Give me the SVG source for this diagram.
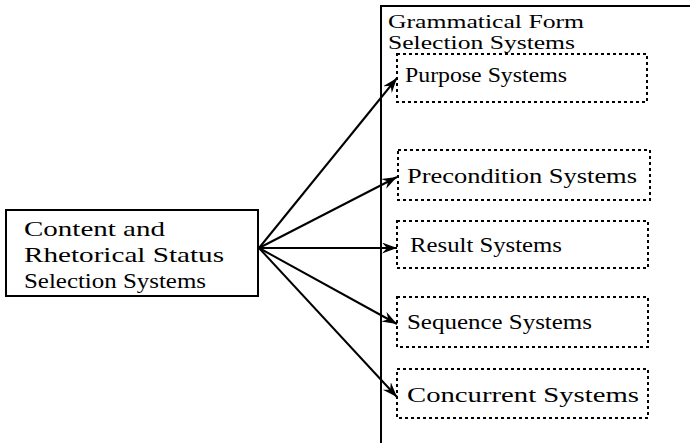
<svg xmlns="http://www.w3.org/2000/svg" width="690" height="443" viewBox="0 0 690 443">
<style>
text{font-family:"Liberation Serif","Times New Roman",serif;font-size:22px;fill:#000}
text.hdr{font-size:18.5px}
.solid{fill:#fff;stroke:#000;stroke-width:2}
.dash{fill:none;stroke:#000;stroke-width:2;stroke-dasharray:3 3}
.conn{stroke:#000;stroke-width:2;fill:none;marker-end:url(#ah)}
</style>
<defs>
<marker id="ah" markerUnits="userSpaceOnUse" markerWidth="18" markerHeight="12" refX="15" refY="5.5" orient="auto">
<path d="M0,0 L15,5.5 L0,11 L5,5.5 z" fill="#000"/>
</marker>
</defs>
<rect width="690" height="443" fill="#fff"/>
<g id="grammatical-form">
<path d="M381,443 L381,6 L690,6" fill="none" stroke="#000" stroke-width="2"/>
<text class="hdr" x="388" y="28" textLength="196" lengthAdjust="spacingAndGlyphs">Grammatical Form</text>
<text class="hdr" x="388" y="49" textLength="187" lengthAdjust="spacingAndGlyphs">Selection Systems</text>
</g>
<g id="content">
<rect class="solid" x="6" y="210" width="252" height="86"/>
<text x="24" y="236" textLength="141" lengthAdjust="spacingAndGlyphs">Content and</text>
<text x="24" y="262" textLength="200" lengthAdjust="spacingAndGlyphs">Rhetorical Status</text>
<text x="24" y="288" textLength="182" lengthAdjust="spacingAndGlyphs">Selection Systems</text>
</g>
<g id="purpose">
<rect class="dash" x="397" y="54" width="250" height="48"/>
<text x="405" y="82" textLength="162" lengthAdjust="spacingAndGlyphs">Purpose Systems</text>
</g>
<g id="precondition">
<rect class="dash" x="398" y="150" width="252" height="50"/>
<text x="407" y="183" textLength="230" lengthAdjust="spacingAndGlyphs">Precondition Systems</text>
</g>
<g id="result">
<rect class="dash" x="397" y="221" width="251" height="47"/>
<text x="410" y="252" textLength="152" lengthAdjust="spacingAndGlyphs">Result Systems</text>
</g>
<g id="sequence">
<rect class="dash" x="397" y="297" width="251" height="50"/>
<text x="407" y="329" textLength="185" lengthAdjust="spacingAndGlyphs">Sequence Systems</text>
</g>
<g id="concurrent">
<rect class="dash" x="397" y="369" width="251" height="49"/>
<text x="407" y="402" textLength="232" lengthAdjust="spacingAndGlyphs">Concurrent Systems</text>
</g>
<g id="connectors">
<line class="conn" x1="259" y1="248" x2="397" y2="78"/>
<line class="conn" x1="259" y1="248" x2="397" y2="177"/>
<line class="conn" x1="259" y1="248" x2="397" y2="248"/>
<line class="conn" x1="259" y1="248" x2="397" y2="324"/>
<line class="conn" x1="259" y1="248" x2="397" y2="397"/>
</g>
</svg>
